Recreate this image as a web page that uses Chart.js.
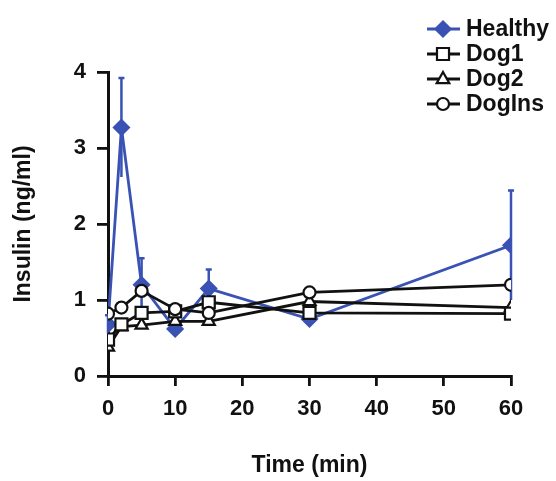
<!DOCTYPE html>
<html>
<head>
<meta charset="utf-8">
<script src="https://cdn.jsdelivr.net/npm/chart.js@4.4.1/dist/chart.umd.min.js"></script>
<style>
  html, body { margin: 0; padding: 0; background: #fff; }
  #wrap { width: 556px; height: 481px; }
</style>
</head>
<body>
<div id="wrap"><canvas id="chart" width="556" height="481"></canvas></div>
<script>
    "use strict";

    const times = [0, 2, 5, 10, 15, 30, 60];
    const healthy = [0.68, 3.27, 1.2, 0.62, 1.15, 0.75, 1.72];
    const healthyErr = [0.12, 0.65, 0.35, 0.08, 0.25, 0.07, 0.72];
    const dog1 = [0.48, 0.68, 0.83, 0.85, 0.97, 0.83, 0.82];
    const dog2 = [0.38, 0.65, 0.67, 0.72, 0.72, 0.98, 0.9];
    const dogIns = [0.82, 0.9, 1.12, 0.88, 0.83, 1.1, 1.2];
    const xTicks = [0, 10, 20, 30, 40, 50, 60];
    const yTicks = [0, 1, 2, 3, 4];

    const BLUE = "#3a52b4";
    const INK = "#111";
    const FONT = "'Liberation Sans', Arial, sans-serif";

    function points(values) {
        return values.map((v, i) => ({ x: times[i], y: v }));
    }

    function series(label, values, style, fill, color, radius, order) {
        return {
            label,
            data: points(values),
            borderColor: color,
            borderWidth: 2.8,
            pointStyle: style,
            pointRadius: radius,
            pointBorderWidth: 2.2,
            pointBackgroundColor: fill,
            pointBorderColor: color,
            tension: 0,
            order
        };
    }

    // vertical error bars for the Healthy series, under the lines
    const errorBars = {
        id: "errorBars",
        beforeDatasetsDraw(chart) {
            const { ctx, scales: { x, y } } = chart;
            ctx.save();
            ctx.strokeStyle = BLUE;
            ctx.lineWidth = 2.5;
            healthy.forEach((v, i) => {
                const px = x.getPixelForValue(times[i]);
                const top = y.getPixelForValue(v + healthyErr[i]);
                const bot = y.getPixelForValue(v - healthyErr[i]);
                ctx.beginPath();
                ctx.moveTo(px, top);
                ctx.lineTo(px, bot);
                ctx.moveTo(px - 3, top);
                ctx.lineTo(px + 3, top);
                ctx.stroke();
            });
            ctx.restore();
        }
    };

    function marker(ctx, style, x, y, r, fill, color) {
        ctx.beginPath();
        if (style === "rectRot") {
            ctx.moveTo(x, y - r); ctx.lineTo(x + r, y); ctx.lineTo(x, y + r); ctx.lineTo(x - r, y);
        } else if (style === "rect") {
            const s = r * Math.SQRT1_2;
            ctx.rect(x - s, y - s, 2 * s, 2 * s);
        } else if (style === "triangle") {
            ctx.moveTo(x, y - r); ctx.lineTo(x + r * 0.9, y + r * 0.6); ctx.lineTo(x - r * 0.9, y + r * 0.6);
        } else {
            ctx.arc(x, y, r, 0, Math.PI * 2);
        }
        ctx.closePath();
        ctx.fillStyle = fill;
        ctx.fill();
        ctx.lineWidth = 2.2;
        ctx.strokeStyle = color;
        ctx.stroke();
    }

    const legendBox = {
        id: "legendBox",
        afterDraw(chart) {
            const ctx = chart.ctx;
            ctx.save();
            ctx.font = "bold 23px " + FONT;
            ctx.textBaseline = "middle";
            ctx.textAlign = "left";
            chart.data.datasets.forEach((ds, i) => {
                const yy = 29 + i * 25;
                ctx.strokeStyle = ds.borderColor;
                ctx.lineWidth = 2.8;
                ctx.beginPath();
                ctx.moveTo(427, yy);
                ctx.lineTo(460, yy);
                ctx.stroke();
                marker(ctx, ds.pointStyle, 443, yy, ds.pointRadius, ds.pointBackgroundColor, ds.borderColor);
                ctx.fillStyle = INK;
                ctx.fillText(ds.label, 466, yy + 1);
            });
            ctx.restore();
        }
    };

    const tickFont = { family: FONT, size: 22, weight: "bold" };
    const titleFont = { family: FONT, size: 23, weight: "bold" };

    new Chart(document.getElementById("chart").getContext("2d"), {
        type: "line",
        data: {
            datasets: [
                series("Healthy", healthy, "rectRot", BLUE, BLUE, 7.5, 4),
                series("Dog1", dog1, "rect", "#fff", INK, 8.5, 1),
                series("Dog2", dog2, "triangle", "#fff", INK, 7, 2),
                series("DogIns", dogIns, "circle", "#fff", INK, 6, 0)
            ]
        },
        options: {
            responsive: false,
            animation: false,
            layout: { padding: { left: 0, right: 45, top: 72, bottom: 0 } },
            plugins: { legend: { display: false }, tooltip: { enabled: false } },
            scales: {
                x: {
                    type: "linear",
                    min: 0,
                    max: 60,
                    afterBuildTicks: axis => { axis.ticks = xTicks.map(v => ({ value: v })); },
                    afterFit: axis => { axis.height = 105; },
                    grid: { drawOnChartArea: false, drawTicks: true, tickLength: 10, color: INK, lineWidth: 2.8 },
                    border: { display: true, color: INK, width: 3 },
                    ticks: { color: INK, font: tickFont, padding: 10, maxRotation: 0 },
                    title: { display: true, text: "Time (min)", color: INK, font: titleFont, padding: { top: 0, bottom: 2 } }
                },
                y: {
                    min: 0,
                    max: 4,
                    afterBuildTicks: axis => { axis.ticks = yTicks.map(v => ({ value: v })); },
                    afterFit: axis => { axis.width = 108; },
                    grid: { drawOnChartArea: false, drawTicks: true, tickLength: 11, color: INK, lineWidth: 2.8 },
                    border: { display: true, color: INK, width: 3 },
                    ticks: { color: INK, font: tickFont, padding: 11 },
                    title: { display: true, text: "Insulin (ng/ml)", color: INK, font: titleFont, padding: { top: 10, bottom: 0 } }
                }
            }
        },
        plugins: [errorBars, legendBox]
    });
</script>
</body>
</html>
